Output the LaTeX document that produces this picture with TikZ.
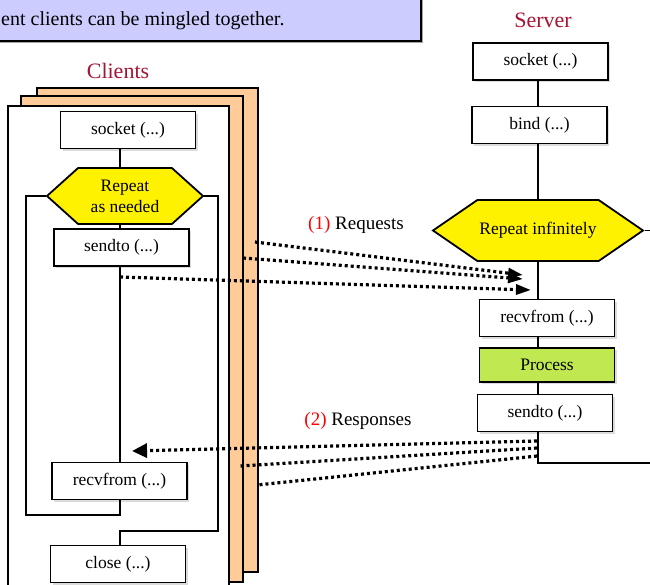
\documentclass[tikz,border=0pt]{standalone}
\usepackage{fontspec}
\setmainfont{Liberation Serif}
\usetikzlibrary{shapes.symbols,shadows,arrows.meta}
\definecolor{peach}{RGB}{255,204,153}
\definecolor{lavender}{RGB}{204,204,255}
\definecolor{lime}{RGB}{192,232,80}
\definecolor{crimson}{RGB}{165,20,50}
\tikzset{
  call/.style={draw, line width=1.8pt, fill=white, minimum width=135pt, minimum height=37pt,
    font=\fontsize{17.5}{19}\selectfont,
    drop shadow={shadow xshift=2pt, shadow yshift=-2pt, fill=gray!55}},
  loop/.style={draw, line width=1.8pt, fill=yellow, shape=signal, signal to=west and east,
    align=center, inner sep=0pt, font=\fontsize{17.5}{21}\selectfont},
  frame/.style={draw, line width=1.8pt},
  wire/.style={line width=1.8pt},
  msg/.style={line width=3.2pt, dash pattern=on 3pt off 3pt},
  title/.style={text=crimson, font=\fontsize{22}{24}\selectfont},
  tag/.style={font=\fontsize{19}{21}\selectfont}
}
\begin{document}
\begin{tikzpicture}[x=1pt,y=-1pt]
\useasboundingbox (0,0) rectangle (650,584);
\clip (0,0) rectangle (650,584);

% note at the top
\draw[line width=1.8pt, fill=lavender, drop shadow={shadow xshift=2pt, shadow yshift=-2pt, fill=black!70}]
  (-10,-30) rectangle (421,41);
\node[anchor=base west, inner sep=0pt, font=\fontsize{20}{22}\selectfont] (note) at (1,25)
  {ent clients can be mingled together.};

% titles
\node[title] (clients) at (118,71) {Clients};
\node[title] (server) at (543,20) {Server};

% client frames
\draw[frame, fill=peach] (37,88) rectangle (258,572);
\draw[frame, fill=peach] (21,96) rectangle (243,582);
\draw[frame, fill=white] (8,106) rectangle (229,600);

% client program
\coordinate (cspine) at (120,0);
\node[call] (csock) at (128,130) {socket (...)};
\node[loop, minimum width=156pt, minimum height=56pt, signal pointer angle=84] (cloop) at (125,196) {Repeat\\as needed};
\node[call] (csend) at (121.5,247.5) {sendto (...)};
\node[call] (crecv) at (119.5,481) {recvfrom (...)};
\node[call] (cclose) at (118,564) {close (...)};

\coordinate (cback) at (26,515);
\coordinate (cfwd) at (218,531);
\draw[wire] (csock.south -| cspine) -- (cloop.north -| cspine);
\draw[wire] (cloop.south -| cspine) -- (csend.north -| cspine);
\draw[wire] (csend.south -| cspine) -- (crecv.north -| cspine);
\draw[wire] (cloop.west) -| (cback) -| (crecv.south -| cspine);
\draw[wire] (cloop.east) -| (cfwd) -| (cclose.north -| cspine);

% server program
\coordinate (sspine) at (538,0);
\coordinate (sout) at (660,463);
\node[call] (ssock) at (540.5,61.5) {socket (...)};
\node[call] (sbind) at (539.5,125) {bind (...)};
\node[loop, minimum width=210pt, minimum height=61pt, signal pointer angle=69] (sloop) at (538,230.5) {Repeat infinitely};
\node[call] (srecv) at (547,318) {recvfrom (...)};
\node[call, fill=lime, minimum height=34pt] (sproc) at (547,365) {Process};
\node[call] (ssend) at (545,413) {sendto (...)};

\draw[wire] (ssock.south -| sspine) -- (sbind.north -| sspine);
\draw[wire] (sbind.south -| sspine) -- (sloop.north -| sspine);
\draw[wire] (sloop.south -| sspine) -- (srecv.north -| sspine);
\draw[wire] (srecv.south -| sspine) -- (sproc.north -| sspine);
\draw[wire] (sproc.south -| sspine) -- (ssend.north -| sspine);
\draw[wire] (ssend.south -| sspine) |- (sout);
\draw[wire] (sloop.east) -- (sloop.east -| sout);

% requests
\coordinate (rq1) at (255,242);
\coordinate (rq2) at (243,258);
\coordinate (rq3) at (120,277);
\coordinate (rqa) at (523,275);
\coordinate (rqb) at (523,279);
\coordinate (rqc) at (531,290);
\draw[msg, -{Triangle[length=15pt, width=10pt]}] (rq1) -- (rqa);
\draw[msg, -{Triangle[length=15pt, width=10pt]}] (rq2) -- (rqb);
\draw[msg, -{Triangle[length=15pt, width=10pt]}] (rq3) -- (rqc);
\node[tag] (reqlbl) at (356,225) {\textcolor{red}{(1)} Requests};

% responses
\coordinate (rs1) at (537,441);
\coordinate (rs2) at (537,448);
\coordinate (rs3) at (537,456);
\coordinate (rsa) at (132,451);
\coordinate (rsb) at (240,466);
\coordinate (rsc) at (257,485);
\draw[msg, -{Triangle[length=15pt, width=14pt]}] (rs1) -- (rsa);
\draw[msg] (rs2) -- (rsb);
\draw[msg] (rs3) -- (rsc);
\node[tag] (resplbl) at (358,421) {\textcolor{red}{(2)} Responses};
\end{tikzpicture}
\end{document}
